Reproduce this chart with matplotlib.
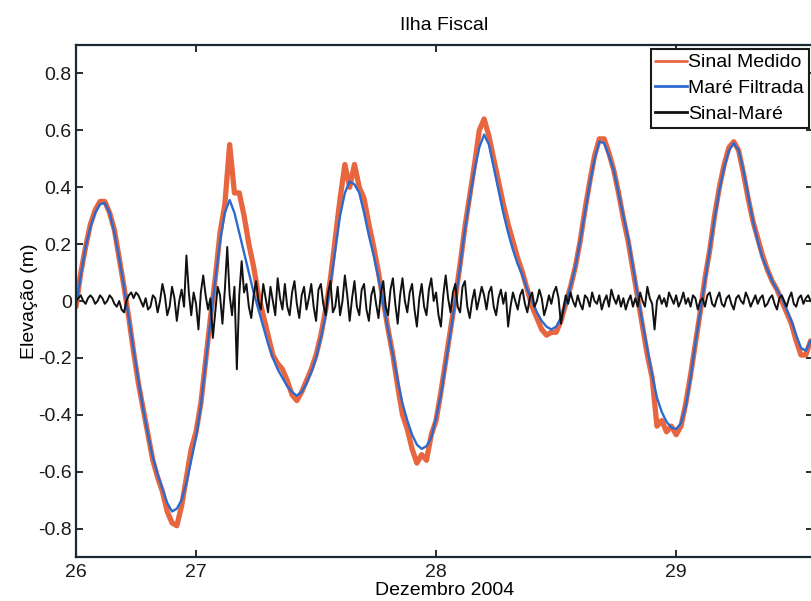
import numpy as np
import matplotlib
matplotlib.use("Agg")
import matplotlib.pyplot as plt
from matplotlib.ticker import FuncFormatter, FixedLocator

plt.rcParams['font.family'] = ['Liberation Sans', 'DejaVu Sans']
plt.rcParams['axes.unicode_minus'] = False

# sampling of the tide series: day of December 2004, every 0.02 day from 26.50
t_start = 26.50
t_step = 0.02
# sampling of the residual series: every 0.01 day from 26.50
r_step = 0.01

# Maré Filtrada (m)
mare = [
    -0.02, 0.09, 0.19, 0.26, 0.31, 0.34, 0.345, 0.31, 0.24, 0.15,
    0.05, -0.06, -0.17, -0.28, -0.38, -0.47, -0.55, -0.61, -0.66, -0.71,
    -0.74, -0.73, -0.70, -0.64, -0.56,
    -0.48, -0.37, -0.22, -0.07, 0.07, 0.21, 0.31, 0.355, 0.31, 0.24,
    0.17, 0.10, 0.03, -0.03, -0.09, -0.15, -0.20, -0.24, -0.27, -0.30,
    -0.32, -0.333, -0.32, -0.29, -0.25, -0.20, -0.13, -0.05, 0.06, 0.18,
    0.30, 0.38, 0.42, 0.41, 0.38, 0.31, 0.23, 0.16, 0.08, -0.01,
    -0.10, -0.19, -0.28, -0.36, -0.42, -0.47, -0.505, -0.52, -0.51, -0.48,
    -0.41, -0.33, -0.22, -0.11, 0.00, 0.12, 0.25, 0.36, 0.46, 0.54,
    0.585, 0.55, 0.47, 0.39, 0.31, 0.24, 0.18, 0.13, 0.09, 0.04,
    0.00, -0.04, -0.07, -0.09, -0.10, -0.09, -0.06, -0.01, 0.05, 0.12,
    0.21, 0.31, 0.41, 0.50, 0.56, 0.555, 0.51, 0.46, 0.38, 0.30,
    0.22, 0.12, 0.02, -0.08, -0.17, -0.26, -0.34, -0.39, -0.425, -0.445,
    -0.45, -0.43, -0.37, -0.27, -0.15, -0.04, 0.07, 0.18, 0.29, 0.39,
    0.47, 0.53, 0.555, 0.53, 0.46, 0.37, 0.28, 0.21, 0.15, 0.11,
    0.07, 0.04, 0.01, -0.03, -0.07, -0.12, -0.165, -0.175, -0.14,
]

# Sinal Medido (m)
sinal = [
    -0.02, 0.10, 0.19, 0.27, 0.32, 0.35, 0.35, 0.31, 0.25, 0.15,
    0.05, -0.06, -0.18, -0.29, -0.38, -0.47, -0.56, -0.62, -0.67, -0.74,
    -0.78, -0.79, -0.72, -0.62, -0.52,
    -0.46, -0.36, -0.21, -0.06, 0.08, 0.24, 0.34, 0.55, 0.38, 0.38,
    0.30, 0.20, 0.12, 0.02, -0.05, -0.12, -0.19, -0.22, -0.24, -0.28,
    -0.33, -0.35, -0.32, -0.28, -0.24, -0.19, -0.12, -0.03, 0.08, 0.22,
    0.36, 0.48, 0.40, 0.48, 0.40, 0.36, 0.27, 0.19, 0.10, 0.00,
    -0.10, -0.19, -0.30, -0.40, -0.45, -0.52, -0.57, -0.54, -0.56, -0.47,
    -0.42, -0.32, -0.21, -0.10, 0.01, 0.13, 0.26, 0.37, 0.48, 0.60,
    0.64, 0.58, 0.50, 0.42, 0.34, 0.27, 0.21, 0.15, 0.10, 0.04,
    -0.02, -0.06, -0.10, -0.12, -0.11, -0.11, -0.07, -0.01, 0.05, 0.12,
    0.21, 0.32, 0.42, 0.51, 0.57, 0.57, 0.52, 0.46, 0.38, 0.29,
    0.21, 0.11, 0.01, -0.09, -0.19, -0.27, -0.44, -0.42, -0.46, -0.44,
    -0.47, -0.44, -0.36, -0.26, -0.15, -0.04, 0.08, 0.18, 0.30, 0.40,
    0.48, 0.54, 0.56, 0.53, 0.45, 0.36, 0.28, 0.22, 0.16, 0.11,
    0.07, 0.04, 0.00, -0.04, -0.08, -0.14, -0.19, -0.19, -0.14,
]

# Sinal-Maré (m)
residuo = [
    0.00, 0.01, 0.02, 0.00, -0.01, 0.01, 0.02, 0.01, -0.01, 0.00,
    0.02, 0.01, -0.01, 0.00, 0.02, 0.01, -0.01, -0.02, 0.00, -0.03,
    -0.04, 0.00, 0.02, 0.03, 0.01, 0.03, 0.02, 0.00, -0.02, 0.01,
    -0.03, -0.02, 0.02, 0.01, -0.04, 0.00, 0.06, 0.02, -0.05, -0.02,
    0.05, 0.01, -0.07, 0.00, 0.04, -0.02, 0.16, 0.03, -0.05, 0.03,
    -0.01, -0.10, 0.03, 0.09, 0.02, -0.03, 0.01, -0.13, -0.04, 0.05,
    0.02, -0.08, 0.04, 0.19, 0.02, -0.05, 0.05, -0.24, 0.02, 0.14,
    0.03, 0.06, -0.02, -0.06, 0.02, 0.07, 0.00, -0.03, 0.06, 0.01,
    -0.04, 0.05, 0.00, -0.05, 0.08, 0.01, -0.03, 0.06, -0.02, -0.05,
    0.03, 0.07, -0.01, -0.06, 0.02, 0.05, -0.03, 0.01, 0.06, -0.02,
    -0.07, 0.04, 0.06, -0.01, -0.05, 0.03, 0.07, -0.04, -0.02, 0.05,
    -0.05, 0.00, 0.09, 0.02, -0.07, 0.01, 0.07, -0.02, -0.05, 0.04,
    0.06, -0.03, -0.07, 0.02, 0.05, -0.01, -0.06, 0.03, 0.07, -0.02,
    -0.05, 0.04, 0.08, -0.01, -0.08, 0.02, 0.08, 0.00, -0.04, 0.03,
    0.06, -0.03, -0.09, 0.01, 0.06, -0.02, -0.05, 0.04, 0.08, 0.00,
    0.03, -0.05, -0.09, 0.02, 0.09, 0.01, -0.04, 0.03, 0.06, -0.02,
    -0.04, 0.05, 0.07, -0.02, -0.06, 0.00, 0.04, -0.03, 0.01, 0.05,
    0.02, -0.03, 0.03, 0.05, -0.02, -0.05, 0.01, 0.04, -0.01, 0.03,
    -0.09, -0.02, 0.03, 0.00, -0.03, 0.02, 0.04, -0.01, -0.04, 0.01,
    0.03, -0.02, 0.00, 0.04, 0.01, -0.05, -0.02, 0.02, -0.01, 0.03,
    0.05, 0.01, -0.08, -0.03, 0.02, -0.01, 0.03, 0.00, -0.02, 0.02,
    -0.01, -0.03, 0.02, 0.01, -0.02, 0.03, 0.00, -0.01, 0.02, -0.03,
    0.00, 0.02, -0.02, 0.04, 0.01, -0.01, 0.02, -0.02, 0.01, -0.03,
    0.00, 0.02, -0.02, 0.01, -0.02, 0.03, 0.00, -0.02, 0.05, 0.01,
    -0.01, -0.10, 0.00, 0.02, -0.01, 0.01, -0.02, 0.03, 0.01, -0.01,
    0.02, -0.02, 0.00, 0.03, -0.01, 0.01, -0.02, 0.02, 0.01, -0.03,
    0.00, 0.01, -0.02, 0.02, 0.03, -0.01, -0.02, 0.01, 0.03, -0.01,
    -0.02, 0.01, 0.02, -0.01, -0.03, 0.01, 0.02, 0.00, -0.01, 0.03,
    0.01, -0.02, 0.00, 0.02, -0.01, 0.01, 0.02, -0.02, -0.01, 0.01,
    0.02, -0.01, -0.03, 0.01, 0.02, 0.00, -0.02, 0.01, 0.03, -0.01,
    -0.02, 0.01, 0.02, -0.01, 0.01, 0.02, 0.00,
]

x_ticks = [26.5, 27, 28, 29]
y_ticks = [-0.8, -0.6, -0.4, -0.2, 0, 0.2, 0.4, 0.6, 0.8]

t = t_start + t_step * np.arange(len(mare))
tr = t_start + r_step * np.arange(len(residuo))

fig = plt.figure(figsize=(8.11, 6.01), dpi=100)
ax = fig.add_axes([76/811, 1-557/601, (813-76)/811, (557-45)/601])

ax.plot(t, sinal, color='#E8663F', lw=3.8, label='Sinal Medido',
        solid_joinstyle='round', solid_capstyle='round')
ax.plot(t, mare, color='#2A6BD0', lw=1.7, label='Maré Filtrada')
ax.plot(tr, residuo, color='#111111', lw=1.4, label='Sinal-Maré')

ax.set_xlim(26.5, 29.57)
ax.set_ylim(-0.9, 0.9)
ax.xaxis.set_major_locator(FixedLocator(x_ticks))
ax.yaxis.set_major_locator(FixedLocator(y_ticks))
ax.xaxis.set_major_formatter(FuncFormatter(lambda v, p: f"{int(np.floor(v))}"))
ax.yaxis.set_major_formatter(FuncFormatter(lambda v, p: f"{v:g}"))
ax.tick_params(direction='in', top=True, right=True, length=5, width=1.3,
               labelsize=14, colors='#1a1a1a')
ax.tick_params(axis='y', pad=3)
ax.tick_params(axis='x', pad=5)
for s in ax.spines.values():
    s.set_linewidth(1.6)
    s.set_color('#1a2a33')

ax.set_title('Ilha Fiscal', fontsize=14, pad=11)
ax.set_xlabel('Dezembro 2004', fontsize=14, labelpad=1)
ax.set_ylabel('Elevação (m)', fontsize=14, labelpad=0)

leg = ax.legend(loc='upper right', fontsize=14, frameon=True, fancybox=False,
                edgecolor='#1a1a1a', framealpha=1, handlelength=1.6,
                handletextpad=0.1, labelspacing=0.42, borderpad=0.25,
                borderaxespad=0.2)
leg.get_frame().set_linewidth(1.5)
for h in leg.get_lines():
    h.set_linewidth(2.0)

fig.savefig('out.png', dpi=100)
